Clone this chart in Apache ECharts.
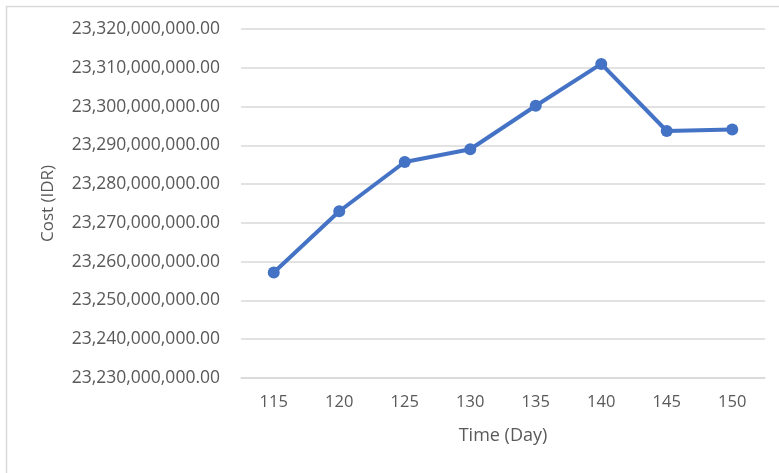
<!DOCTYPE html>
<html>
<head>
<meta charset="utf-8">
<script src="https://cdn.jsdelivr.net/npm/echarts@6/dist/echarts.min.js"></script>
<style>
html,body{margin:0;padding:0;background:#fff;}
#c{width:779px;height:473px;}
</style>
</head>
<body>
<div id="c"></div>
<script>
const days = ['115','120','125','130','135','140','145','150'];
const costs = [23257200000, 23273000000, 23285700000, 23289000000, 23300200000, 23311000000, 23293700000, 23294100000];
const yMin = 23230000000;
const yMax = 23320000000;
const yStep = 10000000;
const xTitle = 'Time (Day)';
const yTitle = 'Cost (IDR)';

function fmt(v){
  const s = Math.round(v).toString().replace(/\B(?=(\d{3})+(?!\d))/g, ',');
  return s + '.00';
}

const chart = echarts.init(document.getElementById('c'));
const FONT = 'Open Sans';
chart.setOption({
  animation: false,
  backgroundColor: '#fff',
  graphic: [{
    type: 'rect',
    shape: {x: 6.5, y: 6.5, width: 800, height: 500},
    style: {fill: 'none', stroke: '#d9d9d9', lineWidth: 1.5},
    silent: true
  }],
  grid: {left: 241, right: 14, top: 29, bottom: 95, containLabel: false},
  xAxis: {
    type: 'category',
    data: days,
    boundaryGap: true,
    axisLine: {show: true, lineStyle: {color: '#d9d9d9', width: 1.5}},
    axisTick: {show: false},
    axisLabel: {color: '#595959', fontFamily: FONT, fontSize: 16.5, margin: 16},
    name: xTitle,
    nameLocation: 'middle',
    nameGap: 49,
    nameTextStyle: {color: '#595959', fontFamily: FONT, fontSize: 18}
  },
  yAxis: {
    type: 'value',
    min: yMin,
    max: yMax,
    interval: yStep,
    axisLine: {show: false},
    axisTick: {show: false},
    splitLine: {show: true, lineStyle: {color: '#d9d9d9', width: 1.5}},
    axisLabel: {color: '#595959', fontFamily: FONT, fontSize: 17.5, margin: 21, formatter: fmt},
    name: yTitle,
    nameLocation: 'middle',
    nameGap: 184,
    nameTextStyle: {color: '#595959', fontFamily: FONT, fontSize: 17}
  },
  series: [{
    type: 'line',
    data: costs,
    symbol: 'circle',
    symbolSize: 12,
    lineStyle: {color: '#4472C4', width: 4},
    itemStyle: {color: '#4472C4'}
  }]
});
</script>
</body>
</html>
